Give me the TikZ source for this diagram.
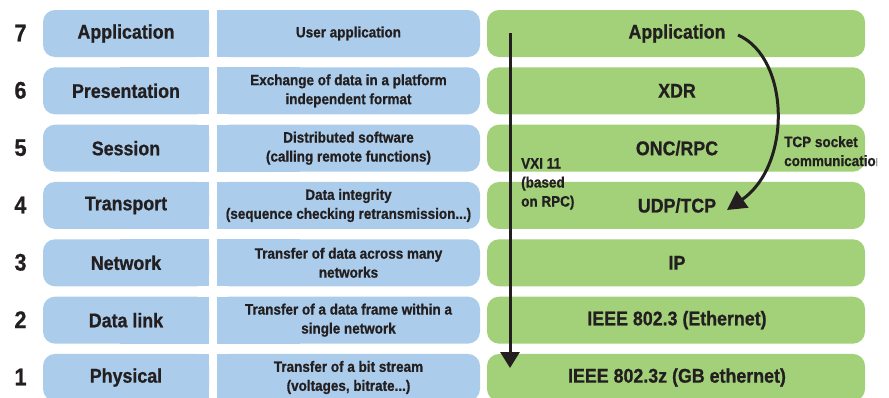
\documentclass[tikz,border=0pt]{standalone}
\usepackage{fontspec}
\newfontfamily\cf[FakeStretch=0.9,FakeBold=0.8]{Liberation Sans Bold}
\usetikzlibrary{arrows.meta}
\definecolor{osiblue}{HTML}{ABCDEB}
\definecolor{osigreen}{HTML}{A2D17A}
\definecolor{ink}{HTML}{231F20}
\tikzset{
  layer/.style={font=\cf\fontsize{19.8}{22}\selectfont, text=ink, inner sep=0pt},
  desc/.style={font=\cf\fontsize{15}{19}\selectfont, text=ink, align=center, inner sep=0pt},
  num/.style={font=\cf\fontsize{24}{26}\selectfont, text=ink, inner sep=0pt},
  side/.style={font=\cf\fontsize{15}{19}\selectfont, text=ink, align=left, inner sep=0pt, anchor=north west},
  bigarrow/.style={line width=3pt, draw=ink, -{Triangle[width=19pt,length=16pt]}}
}
\begin{document}
\begin{tikzpicture}[x=1pt,y=-1pt]
\useasboundingbox (0,0) rectangle (889,397);
\clip (0,0) rectangle (889,397);
\fill[white] (0,0) rectangle (889,397);
% boxes
\foreach \i in {0,...,6} {
  \pgfmathsetmacro{\t}{10+\i*57.33}
  \pgfmathsetmacro{\b}{\t+47}
  \fill[osiblue, rounded corners=12pt] (43,\t) rectangle (209,\b);
  \fill[osiblue] (120,\t) rectangle (209,\b);
  \fill[osiblue, rounded corners=12pt] (217,\t) rectangle (480,\b);
  \fill[osiblue] (217,\t) rectangle (300,\b);
  \fill[osigreen, rounded corners=12pt] (487,\t) rectangle (865,\b);
}
% numbers
\node[num] (n7) at (20.5,33) {7};
\node[num] (n6) at (20.5,90.3) {6};
\node[num] (n5) at (20.5,147.7) {5};
\node[num] (n4) at (20.5,205) {4};
\node[num] (n3) at (20.5,262.3) {3};
\node[num] (n2) at (20.5,319.7) {2};
\node[num] (n1) at (20.5,377) {1};
% layer names
\node[layer] (l7) at (126,33.5) {Application};
\node[layer] (l6) at (126,90.8) {Presentation};
\node[layer] (l5) at (126,148.2) {Session};
\node[layer] (l4) at (126,205.5) {Transport};
\node[layer] (l3) at (126,262.8) {Network};
\node[layer] (l2) at (126,320.2) {Data link};
\node[layer] (l1) at (126,377.5) {Physical};
% descriptions
\node[desc] (d7) at (348.5,33.5) {User application};
\node[desc] (d6) at (348.5,90.8) {Exchange of data in a platform\\independent format};
\node[desc] (d5) at (348.5,148.2) {Distributed software\\(calling remote functions)};
\node[desc] (d4) at (348.5,205.5) {Data integrity\\(sequence checking retransmission...)};
\node[desc] (d3) at (348.5,262.8) {Transfer of data across many\\networks};
\node[desc] (d2) at (348.5,320.2) {Transfer of a data frame within a\\single network};
\node[desc] (d1) at (348.5,377.5) {Transfer of a bit stream\\(voltages, bitrate...)};
% protocols
\node[layer] (p7) at (677,33.5) {Application};
\node[layer] (p6) at (677,90.8) {XDR};
\node[layer] (p5) at (677,148.2) {ONC/RPC};
\node[layer] (p4) at (677,205.5) {UDP/TCP};
\node[layer] (p3) at (677,262.8) {IP};
\node[layer] (p2) at (677,320.2) {IEEE 802.3 (Ethernet)};
\node[layer] (p1) at (677,377.5) {IEEE 802.3z (GB ethernet)};
% side labels
\node[side] (vxi) at (521,158) {VXI 11\\(based\\on RPC)};
\begin{scope}
\clip (0,0) rectangle (877,397);
\node[side] (tcp) at (784,136) {TCP socket\\communication};
\end{scope}
% arrows
\coordinate (vs) at (510,33);
\coordinate (ve) at (510,368);
\draw[bigarrow] (vs) -- (ve);
\coordinate (cs) at (738,35);
\coordinate (ce) at (727,210);
\draw[bigarrow, -{Triangle[width=20pt,length=19pt]}] (cs) .. controls (790,58) and (792,165) .. (ce);
\end{tikzpicture}
\end{document}
